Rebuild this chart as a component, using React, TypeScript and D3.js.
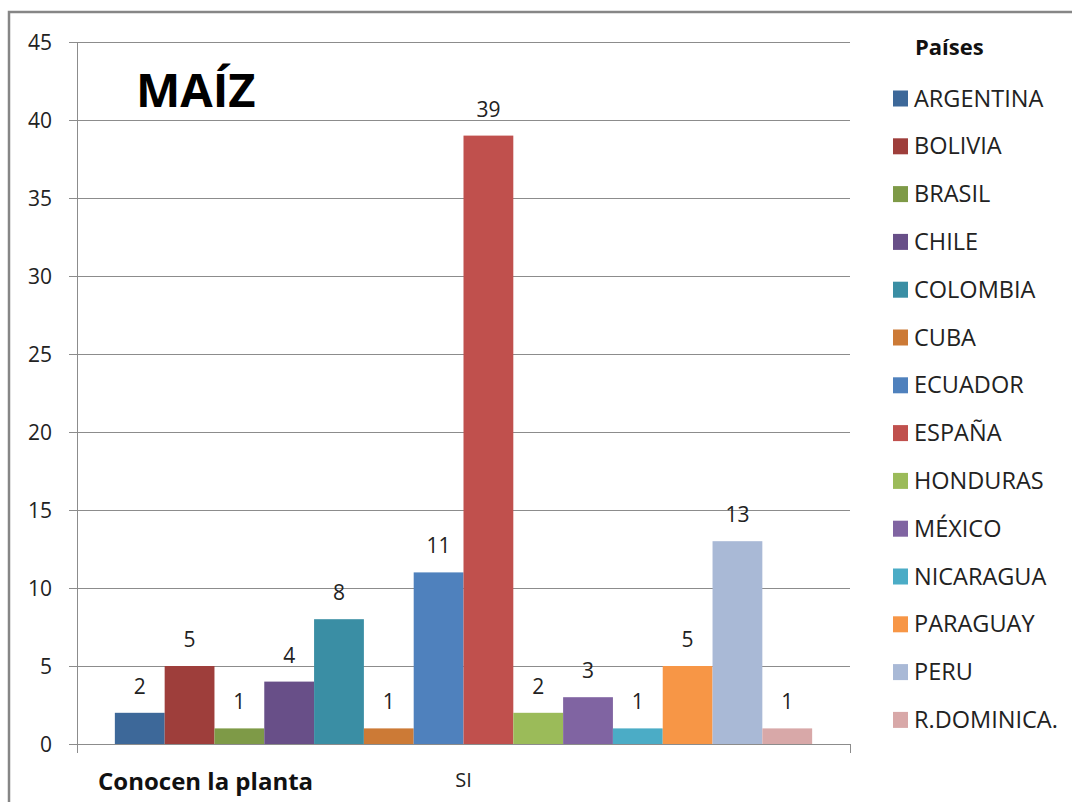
import React, { useRef, useEffect } from 'react';
import * as d3 from 'd3';

const countries = ['ARGENTINA', 'BOLIVIA', 'BRASIL', 'CHILE', 'COLOMBIA', 'CUBA', 'ECUADOR', 'ESPAÑA', 'HONDURAS', 'MÉXICO', 'NICARAGUA', 'PARAGUAY', 'PERU', 'R.DOMINICA.'];
const values = [2, 5, 1, 4, 8, 1, 11, 39, 2, 3, 1, 5, 13, 1];
const colors = ['#3d6899', '#9e3e3b', '#7e9a47', '#684f88', '#3a8ea4', '#cc7a36', '#4f81bd', '#c0504d', '#9bbb59', '#8064a2', '#4bacc6', '#f79646', '#a9b9d6', '#d8a8a8'];
const yTicks = [0, 5, 10, 15, 20, 25, 30, 35, 40, 45];
const category = 'SI';

const FONT = '"Open Sans", Lato, sans-serif';

const App = () => {
    const chartRef = useRef<SVGSVGElement>(null);

    useEffect(() => {
        const svg = d3.select(chartRef.current);
        svg.selectAll('*').remove();

        const left = 77, right = 850, top = 42, bottom = 744;

        const y = d3.scaleLinear().domain([0, 45]).range([bottom, top]);
        const x = d3.scaleBand<string>()
            .domain(countries)
            .range([left, right])
            .paddingInner(0)
            .paddingOuter(0.76);

        // outer frame
        svg.append('path')
            .attr('d', `M9,810 L9,12 L1072,12`)
            .attr('fill', 'none')
            .attr('stroke', '#868686')
            .attr('stroke-width', 2.5);

        // grid lines
        svg.append('g')
            .selectAll('line')
            .data(yTicks)
            .enter()
            .append('line')
            .attr('x1', left - 8)
            .attr('x2', right)
            .attr('y1', d => Math.round(y(d)) + 0.5)
            .attr('y2', d => Math.round(y(d)) + 0.5)
            .attr('stroke', '#8c8c8c')
            .attr('stroke-width', 1);

        // y axis line and category ticks
        svg.append('line')
            .attr('x1', left + 0.5).attr('x2', left + 0.5)
            .attr('y1', top).attr('y2', bottom + 9)
            .attr('stroke', '#8c8c8c');
        svg.append('line')
            .attr('x1', right + 0.5).attr('x2', right + 0.5)
            .attr('y1', bottom).attr('y2', bottom + 9)
            .attr('stroke', '#8c8c8c');

        // y tick labels
        svg.append('g')
            .selectAll('text')
            .data(yTicks)
            .enter()
            .append('text')
            .attr('x', 52)
            .attr('y', d => y(d) + 8)
            .attr('text-anchor', 'end')
            .style('font-family', FONT)
            .style('font-size', '21px')
            .attr('fill', '#222')
            .text(d => d);

        // bars
        svg.append('g')
            .selectAll('rect')
            .data(values)
            .enter()
            .append('rect')
            .attr('x', (d, i) => x(countries[i])!)
            .attr('y', d => y(d))
            .attr('width', x.bandwidth())
            .attr('height', d => bottom - y(d))
            .attr('fill', (d, i) => colors[i]);

        // bar labels
        svg.append('g')
            .selectAll('text')
            .data(values)
            .enter()
            .append('text')
            .attr('x', (d, i) => x(countries[i])! + x.bandwidth() / 2)
            .attr('y', d => y(d) - 19)
            .attr('text-anchor', 'middle')
            .style('font-family', FONT)
            .style('font-size', '21px')
            .attr('fill', '#222')
            .text(d => d);

        // category label
        svg.append('text')
            .attr('x', (left + right) / 2)
            .attr('y', 787)
            .attr('text-anchor', 'middle')
            .style('font-family', FONT)
            .style('font-size', '20px')
            .attr('fill', '#222')
            .text(category);

        svg.append('text')
            .attr('x', 98)
            .attr('y', 790)
            .style('font-family', FONT)
            .style('font-size', '24px')
            .style('font-weight', 'bold')
            .attr('fill', '#111')
            .text('Conocen la planta');

        // title
        svg.append('text')
            .attr('x', 136)
            .attr('y', 107)
            .style('font-family', FONT)
            .style('font-size', '47px')
            .style('font-weight', 'bold')
            .attr('fill', '#000')
            .text('MAÍZ');

        // legend
        svg.append('text')
            .attr('x', 915)
            .attr('y', 55)
            .style('font-family', FONT)
            .style('font-size', '22px')
            .style('font-weight', 'bold')
            .attr('fill', '#111')
            .text('Países');

        const legend = svg.append('g')
            .selectAll('g')
            .data(countries)
            .enter()
            .append('g')
            .attr('transform', (d, i) => `translate(893,${98.5 + i * 47.8})`);

        legend.append('rect')
            .attr('x', 0)
            .attr('y', -8)
            .attr('width', 15)
            .attr('height', 16)
            .attr('fill', (d, i) => colors[i]);

        legend.append('text')
            .attr('x', 21)
            .attr('y', 8)
            .style('font-family', FONT)
            .style('font-size', '23.5px')
            .attr('fill', '#222')
            .text(d => d);
    }, []);

    return (
        <svg ref={chartRef} width={1072} height={802}
            style={{ position: 'absolute', left: 0, top: 0, background: '#fff' }} />
    );
};

export default App;
